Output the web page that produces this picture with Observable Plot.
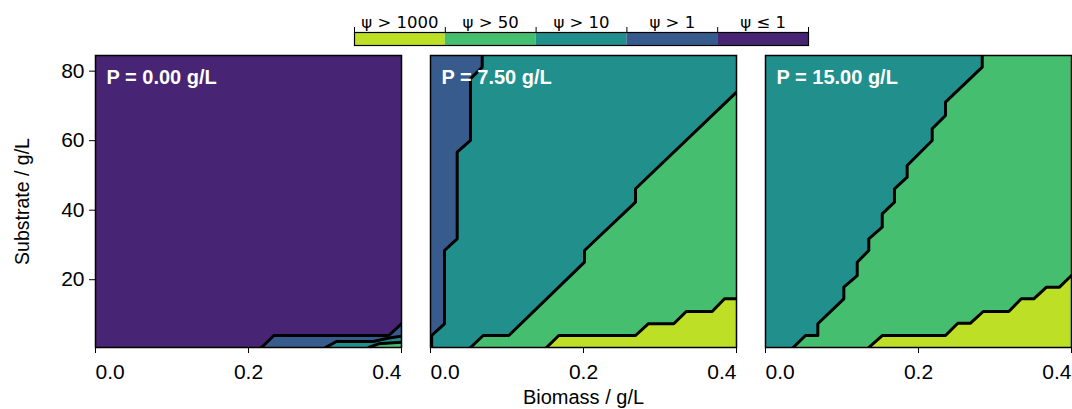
<!DOCTYPE html>
<html><head><meta charset="utf-8">
<script src="https://cdn.jsdelivr.net/npm/d3@7"></script>
<script src="https://cdn.jsdelivr.net/npm/@observablehq/plot@0.6"></script>
<style>
body{margin:0;background:#fff;}
#root{position:relative;width:1072px;height:409px;overflow:hidden;background:#fff;}
#root > svg{position:absolute;}
</style></head><body><div id="root"></div>
<script>
// ---- data ----
const categories = ["ψ > 1000", "ψ > 50", "ψ > 10", "ψ > 1", "ψ ≤ 1"];
const colors = ["#bddf26", "#45bf6f", "#21908c", "#375b8d", "#482475"];
const panelLabels = ["P = 0.00 g/L", "P = 7.50 g/L", "P = 15.00 g/L"];
const baseCategory = ["ψ ≤ 1", "ψ > 10", "ψ > 10"];
const xTicks = [0, 0.2, 0.4];
const yTicks = [20, 40, 60, 80];
const xDomain = [0, 0.4];
const yDomain = [0.5, 84.5];
const xLabel = "Biomass / g/L";
const yLabel = "Substrate / g/L";

// boundaries as [biomass, substrate]
// panel 1 (P = 0): regions below each curve
const p1Blue  = [[0.217,0.5],[0.2331,3.95],[0.3834,3.95],[0.4,7.32]];
const p1Teal  = [[0.3007,0.5],[0.315,2.23],[0.3634,2.23],[0.3817,3.18],[0.4,3.75]];
const p1Green = [[0.3573,0.5],[0.37,1.56],[0.4,2.02]];
// panel 2 (P = 7.5)
const p2Blue   = [[0.0676,84.5],[0.0676,81.14],[0.0523,77.8],[0.0523,60.05],[0.0349,56.69],[0.0349,31.77],[0.0183,28.41],[0.0183,7.32],[0.0015,3.95],[0.0015,0.5]];
const p2Green  = [[0.4,73.95],[0.268,46.16],[0.268,42.3],[0.2013,28.41],[0.2013,25.04],[0.1024,3.95],[0.0689,3.95],[0.0523,0.5]];
const p2Yellow = [[0.1516,0.5],[0.1677,3.95],[0.268,3.95],[0.2846,7.32],[0.318,7.32],[0.3343,10.86],[0.3682,10.86],[0.3843,14.51],[0.4,14.51]];
// panel 3 (P = 15)
const p3Green  = [[0.2833,84.5],[0.2833,81.14],[0.2353,71.07],[0.2353,67.24],[0.2179,63.42],[0.2179,60.05],[0.1852,52.86],[0.1852,49.49],[0.1686,46.16],[0.1686,42.3],[0.1526,38.96],[0.1526,35.11],[0.135,31.77],[0.135,28.41],[0.1199,25.04],[0.1199,21.21],[0.1024,17.85],[0.1024,14.51],[0.0684,7.32],[0.0684,3.95],[0.0523,3.95],[0.0362,0.5]];
const p3Yellow = [[0.135,0.5],[0.1526,3.95],[0.2353,3.95],[0.2514,7.49],[0.268,7.49],[0.2846,10.86],[0.318,10.86],[0.3343,14.51],[0.3507,14.51],[0.3673,17.85],[0.3843,17.85],[0.4,21.21]];

const regions = [
  {panel: 0, cat: "ψ > 1",    side: "below", pts: p1Blue},
  {panel: 0, cat: "ψ > 10",   side: "below", pts: p1Teal},
  {panel: 0, cat: "ψ > 50",   side: "below", pts: p1Green},
  {panel: 1, cat: "ψ > 1",    side: "left",  pts: p2Blue},
  {panel: 1, cat: "ψ > 50",   side: "right", pts: p2Green},
  {panel: 1, cat: "ψ > 1000", side: "below", pts: p2Yellow},
  {panel: 2, cat: "ψ > 50",   side: "right", pts: p3Green},
  {panel: 2, cat: "ψ > 1000", side: "below", pts: p3Yellow}
];

const colorScale = {type: "ordinal", domain: categories, range: colors};
const rootEl = document.getElementById("root");
const FONT = "'Liberation Sans', Arial, sans-serif";
const TICK_FS = 21;

const layout = [
  {left: 0,   ml: 95, mr: 5},
  {left: 415, ml: 15, mr: 5},
  {left: 750, ml: 15, mr: 1}
];
const frameW = 306, panelTop = 50, mt = 5, mb = 62, panelH = 359;

function drawPanel(i) {
  const regs = regions.filter(r => r.panel === i);
  const L = layout[i];
  const axOpts = {tickSize: 6, tickPadding: 11, tickFormat: ".1f", fontSize: TICK_FS, label: null};
  const marks = [
    Plot.rect([baseCategory[i]], {x1: xDomain[0], x2: xDomain[1], y1: yDomain[0], y2: yDomain[1], fill: d => d}),
    ...regs.map(r => r.side === "below"
      ? Plot.areaY(r.pts, {x: d => d[0], y1: yDomain[0], y2: d => d[1], fill: () => r.cat, clip: true})
      : r.side === "left"
      ? Plot.areaX(r.pts, {y: d => d[1], x1: xDomain[0], x2: d => d[0], fill: () => r.cat, clip: true})
      : Plot.areaX(r.pts, {y: d => d[1], x1: d => d[0], x2: xDomain[1], fill: () => r.cat, clip: true})),
    ...regs.map(r => Plot.line(r.pts, {x: d => d[0], y: d => d[1], stroke: "black", strokeWidth: 3, clip: true})),
    Plot.text([panelLabels[i]], {text: d => d, frameAnchor: "top-left", dx: 11, dy: 14, lineAnchor: "top",
      fill: "white", fontWeight: "bold", fontSize: 20}),
    Plot.axisX([xTicks[0]], {...axOpts, textAnchor: "start"}),
    Plot.axisX(xTicks.slice(1, -1), axOpts),
    Plot.axisX([xTicks[xTicks.length - 1]], {...axOpts, textAnchor: "end"}),
    Plot.frame({stroke: "black", strokeWidth: 1.5})
  ];
  if (i === 0) {
    marks.push(Plot.axisY(yTicks, {tickSize: 6, tickPadding: 5, fontSize: TICK_FS, label: null}));
    marks.push(Plot.text([yLabel], {text: d => d, frameAnchor: "left", textAnchor: "middle", dx: -73, rotate: -90, fontSize: 19.5}));
  }
  if (i === 1) {
    marks.push(Plot.text([xLabel], {text: d => d, frameAnchor: "bottom", textAnchor: "middle", dy: 56, fontSize: 20}));
  }
  const svg = Plot.plot({
    width: L.ml + frameW + L.mr, height: panelH,
    marginLeft: L.ml, marginRight: L.mr, marginTop: mt, marginBottom: mb,
    x: {domain: xDomain, axis: null},
    y: {domain: yDomain, axis: null},
    color: colorScale,
    style: {fontFamily: FONT, fontSize: TICK_FS + "px", color: "black", background: "white"},
    marks
  });
  svg.style.left = L.left + "px";
  svg.style.top = panelTop + "px";
  rootEl.appendChild(svg);
}

[0, 1, 2].forEach(drawPanel);

// legend (colorbar) on top
const legend = Plot.plot({
  width: 1072, height: 50,
  marginLeft: 354, marginRight: 264, marginTop: 32, marginBottom: 5,
  x: {domain: [0, categories.length], axis: null},
  y: {domain: [0, 1], axis: null},
  color: colorScale,
  style: {fontFamily: "'DejaVu Sans', sans-serif", fontSize: "16.5px", color: "black", background: "white"},
  marks: [
    Plot.rect(categories, {x1: (d, i) => i, x2: (d, i) => i + 1, y1: 0, y2: 1, fill: d => d}),
    Plot.frame({stroke: "black", strokeWidth: 1.2}),
    Plot.axisX(d3.range(categories.length + 1), {anchor: "top", tickSize: 6, tickFormat: () => "", label: null}),
    Plot.text(categories, {x: (d, i) => i + 0.5, text: d => d, frameAnchor: "top", dy: -5, lineAnchor: "bottom", fontSize: 16.5})
  ]
});
legend.style.left = "0px";
legend.style.top = "0px";
rootEl.appendChild(legend);
</script>
</body></html>
